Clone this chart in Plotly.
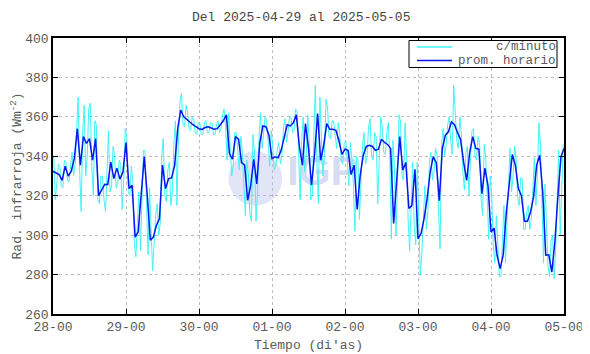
import pandas as pd
import plotly.graph_objects as go

title_text = "Del 2025-04-29 al 2025-05-05"
start_time = "2025-04-28 00:00"
end_time = "2025-05-05 00:00"
legend_names = ["c/minuto", "prom. horario"]

# hourly average (prom. horario), one value per hour from 28-00 to 05-00
hourly_avg = [
    332.4, 331.7, 330.7, 327.8, 335.0, 330.0, 332.4, 338.8, 354.0, 335.5,
    350.0, 346.5, 349.0, 338.0, 349.0, 320.0, 322.8, 325.8, 325.6, 337.0,
    328.7, 334.0, 328.4, 332.0, 347.0, 323.6, 325.3, 299.0, 301.6, 320.0,
    339.7, 320.0, 297.4, 299.0, 305.0, 308.4, 335.5, 323.6, 328.7, 329.0,
    335.5, 354.0, 363.4, 360.0, 358.5, 357.0, 356.0, 355.0, 354.0, 353.6,
    354.6, 355.0, 354.4, 353.7, 354.0, 356.0, 358.0, 361.0, 341.4, 338.5,
    350.0, 348.7, 336.8, 335.5, 317.7, 325.3, 338.5, 326.0, 347.0, 355.4,
    355.0, 350.7, 338.8, 339.7, 339.2, 343.0, 350.0, 356.0, 355.4, 357.0,
    361.0, 345.0, 335.5, 356.6, 344.0, 325.3, 341.0, 361.7, 338.0, 345.6,
    356.6, 353.7, 353.7, 353.2, 348.0, 341.0, 343.6, 343.0, 330.7, 335.5,
    313.0, 330.4, 340.5, 345.0, 345.6, 345.0, 343.0, 343.6, 348.7, 347.0,
    346.0, 344.0, 305.9, 330.4, 350.0, 333.0, 336.8, 313.5, 315.0, 333.4,
    298.2, 300.8, 308.4, 318.5, 332.0, 339.7, 336.8, 317.5, 344.0, 350.7,
    352.4, 357.5, 356.0, 352.0, 348.5, 337.0, 327.8, 342.0, 350.0, 344.0,
    343.6, 321.0, 334.0, 325.3, 301.6, 303.6, 289.8, 283.0, 289.8, 311.0,
    327.0, 340.9, 335.5, 323.6, 320.0, 307.0, 307.0, 311.8, 319.4, 335.5,
    340.5, 322.0, 289.8, 290.0, 281.3, 296.5, 320.0, 339.7, 344.0,
]

# per-minute series (c/minuto), read as the high and low excursion inside each hour
minute_high = [
    340, 336, 335, 338, 337, 336, 342, 351, 370, 352,
    366, 364, 367, 358, 356, 330, 330, 332, 353, 345,
    340, 338, 336, 354, 350, 335, 328, 306, 322, 343,
    343, 324, 304, 310, 316, 340, 349, 333, 337, 347,
    358, 368, 372, 366, 362, 360, 359, 357, 357, 357,
    358, 357, 357, 356, 358, 361, 364, 362, 345, 352,
    352, 350, 342, 338, 330, 351, 342, 350, 362, 360,
    358, 353, 345, 344, 347, 354, 359, 360, 360, 364,
    363, 348, 360, 361, 347, 350, 376, 370, 350, 369,
    365, 358, 358, 357, 352, 347, 348, 347, 339, 340,
    339, 345, 352, 355, 359, 352, 350, 360, 355, 352,
    357, 348, 335, 361, 358, 357, 340, 320, 337, 337,
    305, 313, 325, 337, 342, 344, 341, 346, 354, 356,
    360, 376, 363, 360, 352, 342, 345, 353, 354, 350,
    347, 346, 340, 330, 319, 310, 295, 294, 315, 330,
    344, 345, 339, 329, 329, 312, 315, 323, 339, 357,
    346, 326, 300, 297, 300, 324, 343, 346,
]
minute_low = [
    318, 326, 325, 324, 328, 327, 330, 336, 333, 312,
    330, 340, 335, 320, 318, 316, 318, 312, 322, 325,
    324, 326, 313, 328, 322, 320, 295, 289, 292, 316,
    316, 290, 282, 296, 300, 306, 320, 317, 315, 322,
    315, 350, 356, 355, 354, 353, 352, 351, 351, 351,
    352, 352, 351, 351, 352, 354, 355, 338, 330, 335,
    344, 333, 325, 310, 310, 307, 307, 322, 344, 351,
    346, 335, 333, 335, 336, 340, 347, 352, 352, 353,
    342, 318, 332, 340, 318, 320, 338, 316, 330, 342,
    350, 349, 349, 344, 338, 336, 338, 325, 326, 302,
    308, 326, 336, 340, 340, 338, 316, 338, 342, 341,
    338, 298, 300, 326, 330, 328, 308, 292, 305, 295,
    280, 290, 303, 312, 328, 332, 312, 293, 340, 346,
    348, 341, 348, 344, 332, 323, 320, 338, 340, 338,
    318, 310, 318, 298, 295, 286, 279, 279, 286, 305,
    322, 330, 319, 315, 303, 303, 303, 308, 315, 331,
    318, 286, 284, 279, 278, 292, 300, 330,
]

y_ticks = [260, 280, 300, 320, 340, 360, 380, 400]

t0 = pd.Timestamp(start_time)
hour_times = [t0 + pd.Timedelta(hours=h) for h in range(len(hourly_avg))]

minute_times = []
minute_vals = []
for h, (hi, lo) in enumerate(zip(minute_high, minute_low)):
    pair = (hi, lo) if h % 2 == 0 else (lo, hi)
    minute_times.append(t0 + pd.Timedelta(minutes=60 * h + 15))
    minute_vals.append(pair[0])
    minute_times.append(t0 + pd.Timedelta(minutes=60 * h + 45))
    minute_vals.append(pair[1])

FONT = "Liberation Mono, Courier New, monospace"
GREY = "#5a5a5a"
CYAN = "#3ff5f5"
BLUE = "#0a14f0"

fig = go.Figure()

# watermark text (below the data lines)
fig.add_trace(go.Scatter(
    x=[pd.Timestamp("2025-05-01 16:40")], y=[330.4],
    mode="text", text=["<b>IGP</b>"],
    textfont=dict(family="Liberation Sans, Arial", size=41, color="#d8dbf4"),
    showlegend=False, hoverinfo="skip",
))

fig.add_trace(go.Scatter(
    x=minute_times, y=minute_vals, mode="lines",
    line=dict(color=CYAN, width=1), name=legend_names[0], showlegend=False,
))
fig.add_trace(go.Scatter(
    x=hour_times, y=hourly_avg, mode="lines",
    line=dict(color=BLUE, width=1.5), name=legend_names[1], showlegend=False,
))

# globe of the watermark
fig.add_shape(type="circle", xref="x", yref="y", layer="below",
              x0=pd.Timestamp("2025-04-30 09:40"), x1=pd.Timestamp("2025-05-01 03:20"),
              y0=315, y1=342.5, line=dict(width=0), fillcolor="#e2e5f7")

# plot area in page pixels: x 53..564, y 38..314
def px_x(p):
    return (p - 53) / 511


def px_y(p):
    return (314 - p) / 276


# legend box drawn in the reference style (right-aligned labels)
shapes_leg = [
    dict(type="rect", xref="paper", yref="paper", x0=px_x(409), x1=px_x(557),
         y0=px_y(67.5), y1=px_y(40.5), line=dict(color="black", width=1), fillcolor="white",
         layer="above"),
    dict(type="line", xref="paper", yref="paper", x0=px_x(417), x1=px_x(452),
         y0=px_y(47), y1=px_y(47), line=dict(color=CYAN, width=1.3), layer="above"),
    dict(type="line", xref="paper", yref="paper", x0=px_x(417), x1=px_x(452),
         y0=px_y(60.5), y1=px_y(60.5), line=dict(color=BLUE, width=1.4), layer="above"),
]
for s in shapes_leg:
    fig.add_shape(**s)

annots = [
    dict(text=title_text, x=px_x(301), y=px_y(17), xref="paper", yref="paper",
         xanchor="center", yanchor="middle", showarrow=False,
         font=dict(family=FONT, size=13, color="#454545")),
    dict(text=legend_names[0], x=px_x(557), y=px_y(47), xref="paper", yref="paper",
         xanchor="right", yanchor="middle", showarrow=False, height=12, borderpad=0,
         font=dict(family=FONT, size=12.5, color=GREY)),
    dict(text=legend_names[1], x=px_x(557), y=px_y(60.5), xref="paper", yref="paper",
         xanchor="right", yanchor="middle", showarrow=False, height=12, borderpad=0,
         font=dict(family=FONT, size=12.5, color=GREY)),
]

# page body has an 8px margin, so the figure is 8px smaller and margins shifted
fig.update_layout(
    width=582, height=346,
    margin=dict(l=45, r=26, t=30, b=40, autoexpand=False),
    paper_bgcolor="white", plot_bgcolor="white",
    font=dict(family=FONT, size=13, color=GREY),
    showlegend=False,
    annotations=annots,
)

fig.update_xaxes(
    type="date", range=[start_time, end_time], automargin=False,
    dtick=86400000, tick0=start_time, tickformat="%d-%H",
    showline=True, linecolor="black", linewidth=1.5, mirror="ticks",
    ticks="inside", ticklen=5, tickwidth=1.2, tickcolor="black",
    showgrid=True, gridcolor="#bcbcbc", griddash="dot", gridwidth=1,
    zeroline=False,
    title=dict(text="Tiempo (di'as)", font=dict(family=FONT, size=13, color=GREY), standoff=6),
    tickfont=dict(family=FONT, size=13, color=GREY),
)
fig.update_yaxes(
    range=[260, 400], tickvals=y_ticks, automargin=False,
    showline=True, linecolor="black", linewidth=1.5, mirror="ticks",
    ticks="inside", ticklen=5, tickwidth=1.2, tickcolor="black",
    showgrid=True, gridcolor="#bcbcbc", griddash="dot", gridwidth=1,
    zeroline=False,
    title=dict(text="Rad. infrarroja (Wm<sup>-2</sup>)", font=dict(family=FONT, size=13, color=GREY), standoff=1),
    tickfont=dict(family=FONT, size=13, color=GREY),
)

fig.write_html("out.html")
